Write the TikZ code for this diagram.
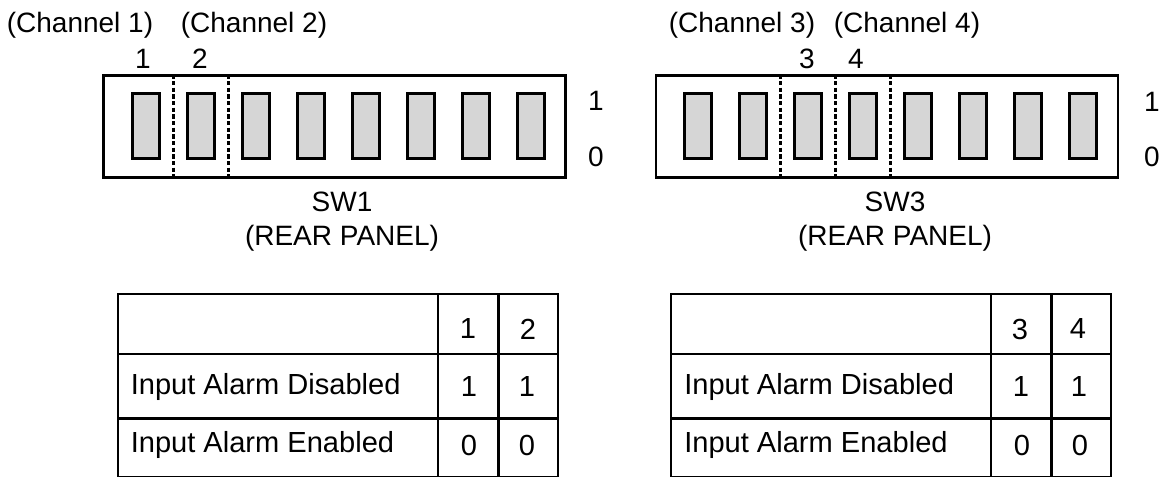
\documentclass[tikz,border=0pt]{standalone}
\usepackage{fontspec}
\setmainfont{Liberation Sans}
\usepackage{tikz}
\usetikzlibrary{calc}
\definecolor{swgrey}{RGB}{214,214,214}

\begin{document}
\begin{tikzpicture}[x=0.75pt,y=-0.75pt,
  panel/.style={draw,rectangle,minimum width=346.6pt,minimum height=76.6pt,inner sep=0pt,line width=2pt},
  lever/.style={draw,rectangle,fill=swgrey,minimum width=20.6pt,minimum height=48.6pt,inner sep=0pt,line width=2.25pt},
  chsep/.style={line width=1.9pt,dash pattern=on 3.3pt off 1.7pt},
  grid/.style={line width=1.9pt},
  lbl/.style={inner sep=0pt,font=\fontsize{21}{25}\selectfont},
  cell/.style={inner sep=0pt,font=\fontsize{21.8}{26}\selectfont}]
  \tikzstyle{every node}=[text=black]

  \clip (0,0) rectangle (1161,477);

  % dip switches
  \node [panel] (swA) at (334.75,126.75) {};
  \node [panel] (swB) at (887,126.75) {};
  \foreach \i in {1,...,8}{
    \node [lever] (a\i) at ({145.75+55*(\i-1)},126) {};
    \node [lever] (b\i) at ({698.25+55*(\i-1)},126) {};
  }
  \foreach \p/\q/\s in {a1/a2/swA,a2/a3/swA,b2/b3/swB,b3/b4/swB,b4/b5/swB}{
    \coordinate (m) at ($(\p.east)!.5!(\q.west)$);
    \draw [chsep] (m |- \s.north) -- (m |- \s.south);
  }

  % channel labels
  \node [lbl] (ch1) at (80,25) {(Channel 1)};
  \node [lbl] (ch2) at (254,25) {(Channel 2)};
  \node [lbl] (ch3) at (742,25) {(Channel 3)};
  \node [lbl] (ch4) at (907,25) {(Channel 4)};
  \node [lbl] (num1) at (143,59) {1};
  \node [lbl] (num2) at (200,59) {2};
  \node [lbl] (num3) at (807,59) {3};
  \node [lbl] (num4) at (856,59) {4};

  \node [lbl] (onA) at (596,101) {1};
  \node [lbl] (offA) at (596,157) {0};
  \node [lbl] (onB) at (1152,102) {1};
  \node [lbl] (offB) at (1152,157) {0};

  \node [lbl] (nameA) at (342,202) {SW1};
  \node [lbl] (rearA) at (342,238) {(REAR PANEL)};
  \node [lbl] (nameB) at (895,202) {SW3};
  \node [lbl] (rearB) at (895,238) {(REAR PANEL)};

  % setting tables
  \foreach \dx in {0,553}{
    \draw [grid] ({118+\dx},294) rectangle ({558+\dx},477.5);
    \draw [grid] ({118+\dx},354) -- ({558+\dx},354);
    \draw [grid] ({118+\dx},418.5) -- ({558+\dx},418.5);
    \draw [grid] ({438+\dx},294) -- ({438+\dx},477.5);
    \draw [grid] ({498.5+\dx},294) -- ({498.5+\dx},477.5);
  }
  \node [cell] (hA1) at (468,329) {1};
  \node [cell] (hA2) at (528,329) {2};
  \node [cell,anchor=west] (disA) at (130.5,387) {Input Alarm Disabled};
  \node [cell] (disA1) at (469,387) {1};
  \node [cell] (disA2) at (527,387) {1};
  \node [cell,anchor=west] (enA) at (130.5,445) {Input Alarm Enabled};
  \node [cell] (enA1) at (469,445) {0};
  \node [cell] (enA2) at (527,445) {0};

  \node [cell] (hB3) at (1020,329) {3};
  \node [cell] (hB4) at (1078,329) {4};
  \node [cell,anchor=west] (disB) at (684,387) {Input Alarm Disabled};
  \node [cell] (disB1) at (1021,387) {1};
  \node [cell] (disB2) at (1079,387) {1};
  \node [cell,anchor=west] (enB) at (684,445) {Input Alarm Enabled};
  \node [cell] (enB1) at (1022,445) {0};
  \node [cell] (enB2) at (1080,445) {0};
\end{tikzpicture}
\end{document}
